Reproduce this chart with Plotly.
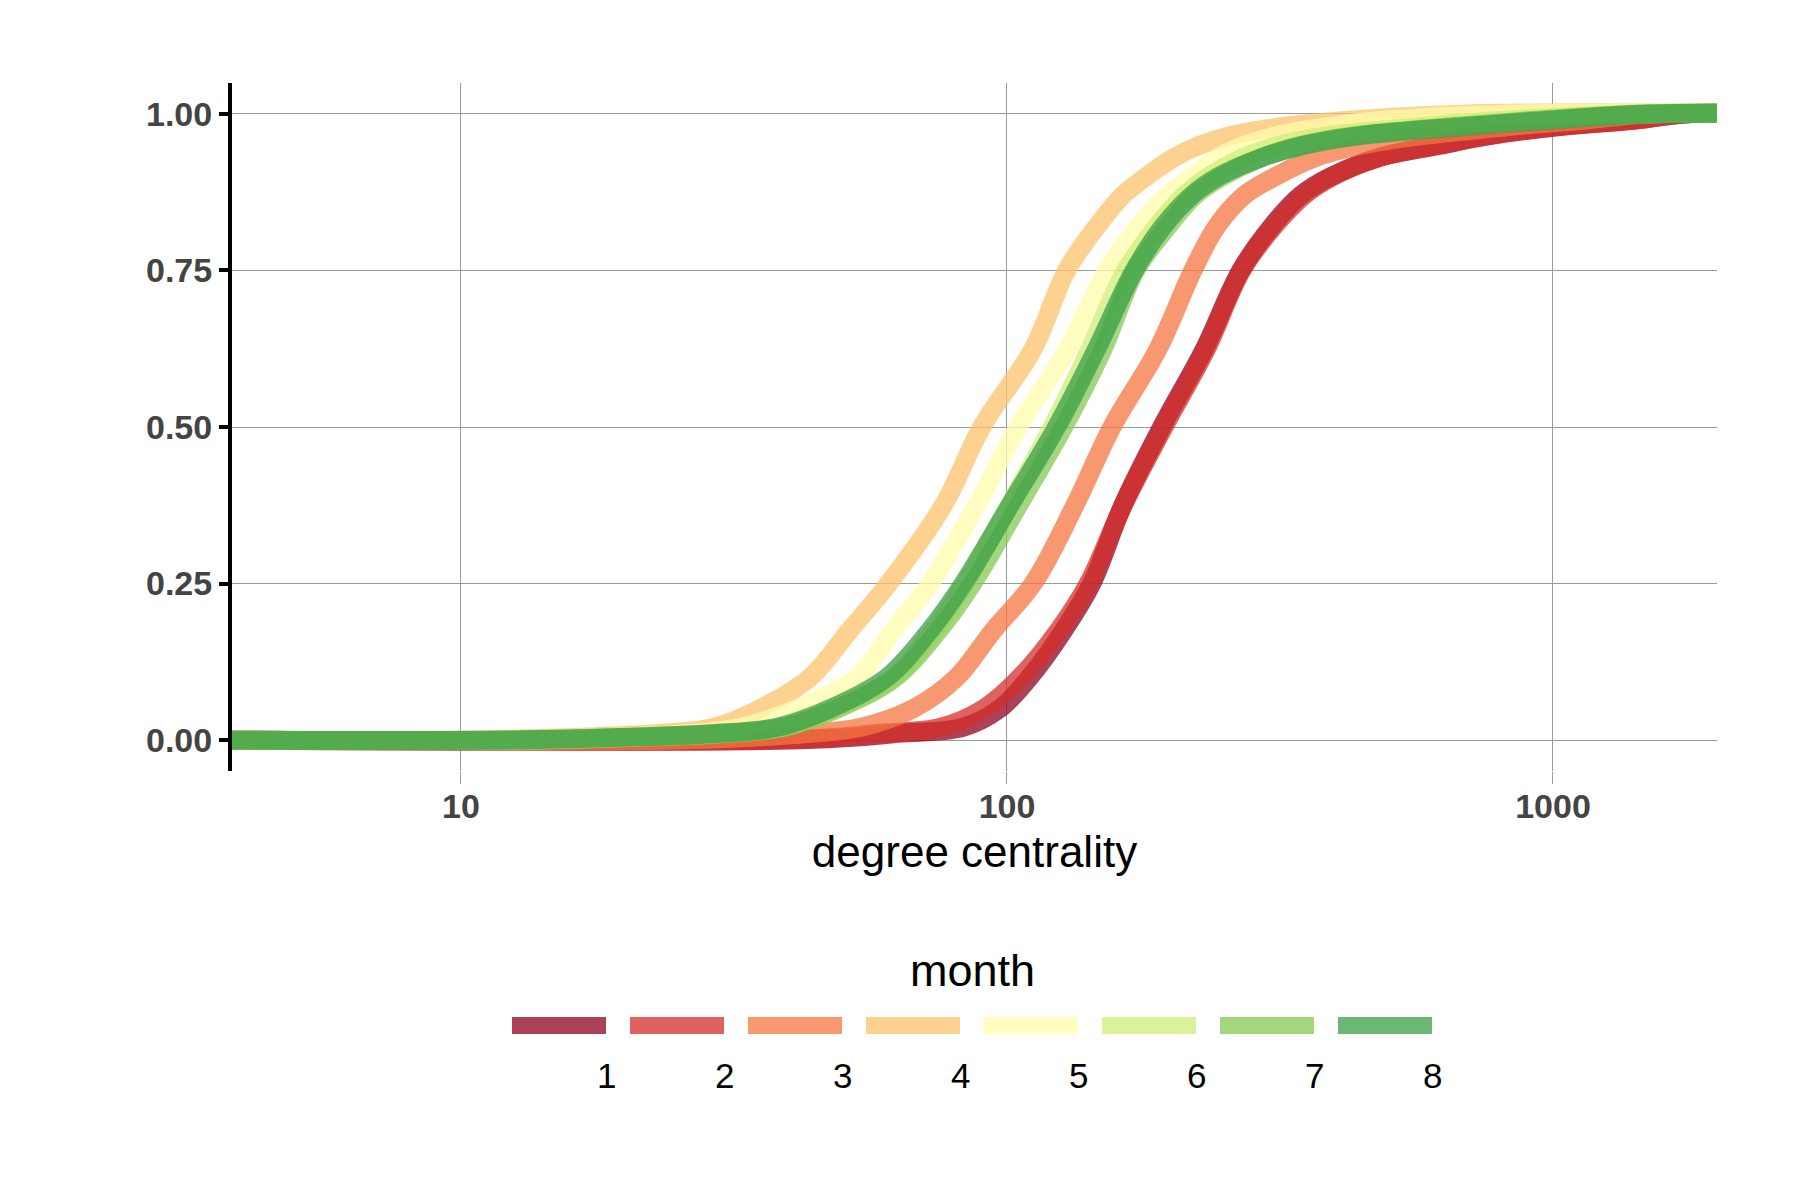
import plotly.graph_objects as go

# ECDF levels and the degree-centrality value each month reaches at that level
levels = [0, 0.005, 0.01, 0.02, 0.05, 0.1, 0.175, 0.25, 0.375, 0.5, 0.625,
          0.75, 0.82, 0.87, 0.9, 0.93, 0.95, 0.965, 0.98, 0.99, 1.0]

month_1 = [40, 54, 62, 83, 97, 110, 127, 143, 163, 192, 230,
           268, 305, 345, 392, 478, 620, 760, 1030, 1400, 1750]
month_2 = [36, 50, 56.8, 75.4, 90.6, 105.6, 124.2, 140.9, 163.3, 193.8, 232,
           269, 308, 350, 395, 478, 615, 750, 1010, 1400, 1750]
month_3 = [25, 35, 42.5, 53.8, 67.3, 80.9, 94.4, 111.7, 133.2, 155.7, 189.2,
           219, 242, 272, 310, 366, 445, 570, 830, 1136, 1500]
month_4 = [10, 17, 22.7, 29, 35.3, 43.6, 51.5, 60.7, 76.5, 89.9, 111.7,
           128.6, 146, 163, 180, 202, 225, 255, 320, 425, 700]
month_5 = [12, 20, 26.2, 32.4, 41.2, 53.1, 61.9, 72.3, 88, 104.8, 129.4,
           152.4, 174, 197, 218, 243, 272, 310, 390, 490, 850]
month_6 = [13, 21.5, 29.5, 38.5, 48.5, 62, 73.5, 84, 101, 121, 142,
           165, 188, 211, 234, 270, 315, 385, 580, 820, 1400]
month_7 = [13, 22, 30, 39, 49, 62.5, 75, 86.5, 105, 127, 150,
           172, 197, 221, 248, 292, 345, 430, 660, 930, 1500]
month_8 = [12, 21, 28.8, 37.8, 47.4, 60.3, 72.2, 83.2, 101.3, 123.3, 146,
           171, 193, 218, 244, 292, 350, 440, 690, 980, 1500]

months = ["1", "2", "3", "4", "5", "6", "7", "8"]
series = [month_1, month_2, month_3, month_4, month_5, month_6, month_7, month_8]

# ecdf is padded to -Inf / Inf in the original, so lines run edge to edge
x_pad_low, x_pad_high = 3, 3000

colors = [(146, 2, 32), (212, 46, 40), (244, 118, 64), (252, 194, 107),
          (255, 252, 171), (207, 236, 120), (132, 202, 84), (59, 158, 72)]
alpha = 0.75

FONT = "Liberation Sans, Arial, sans-serif"

fig = go.Figure()

for m, vals, c in zip(months, series, colors):
    fig.add_trace(go.Scatter(
        x=[x_pad_low] + vals + [x_pad_high],
        y=[0] + levels + [1],
        mode="lines",
        name=m,
        line=dict(color=f"rgba({c[0]},{c[1]},{c[2]},{alpha})", width=19,
                  shape="spline", smoothing=1.0),
        showlegend=False,
    ))

# plot area in page pixels; the html body adds an 8px offset
OFF = 8
L, R, T, B = 232, 1717, 83, 771
W, H = 1800 - OFF, 1200 - OFF


def px(xp):
    return (xp - L) / (R - L)


def py(yp):
    return (B - yp) / (B - T)


# legend: colour keys in a row, labels under the right end of each key
key_x0, key_w, key_step = 512, 94, 118
key_y0, key_y1 = 1017, 1034
for i, (m, c) in enumerate(zip(months, colors)):
    x0 = key_x0 + key_step * i
    fig.add_shape(type="rect", xref="paper", yref="paper",
                  x0=px(x0), x1=px(x0 + key_w), y0=py(key_y1), y1=py(key_y0),
                  fillcolor=f"rgba({c[0]},{c[1]},{c[2]},{alpha})", line=dict(width=0))
    fig.add_annotation(xref="paper", yref="paper", x=px(x0 + key_w), y=py(1075),
                       text=m, showarrow=False, xanchor="center", yanchor="middle",
                       font=dict(family=FONT, size=35, color="black"))

fig.add_annotation(xref="paper", yref="paper", x=px(972), y=py(970),
                   text="month", showarrow=False, xanchor="center", yanchor="middle",
                   font=dict(family=FONT, size=45, color="black"))

fig.update_layout(
    width=W, height=H,
    margin=dict(l=L - OFF, r=W - (R - OFF), t=T - OFF, b=H - (B - OFF), pad=0),
    paper_bgcolor="white",
    plot_bgcolor="white",
    xaxis=dict(
        type="log",
        range=[0.5806, 3.3004],
        tickvals=[10, 100, 1000],
        ticktext=["10", "100", "1000"],
        showgrid=True, gridcolor="#9a9a9a", gridwidth=1,
        ticks="outside", ticklen=12, tickwidth=1, tickcolor="#9a9a9a",
        ticklabelstandoff=-7,
        showline=False, zeroline=False,
        tickfont=dict(family=FONT, size=34, color="#444444", weight="bold"),
        title=dict(text="degree centrality", standoff=12,
                   font=dict(family=FONT, size=44, color="black")),
    ),
    yaxis=dict(
        range=[-0.0495, 1.0495],
        tickvals=[0, 0.25, 0.5, 0.75, 1.0],
        ticktext=["0.00", "0.25", "0.50", "0.75", "1.00"],
        showgrid=True, gridcolor="#9a9a9a", gridwidth=1,
        showline=True, linecolor="black", linewidth=4,
        ticks="outside", ticklen=9, tickwidth=4, tickcolor="black",
        zeroline=False,
        tickfont=dict(family=FONT, size=34, color="#444444", weight="bold"),
    ),
)

fig.write_html("out.html")
